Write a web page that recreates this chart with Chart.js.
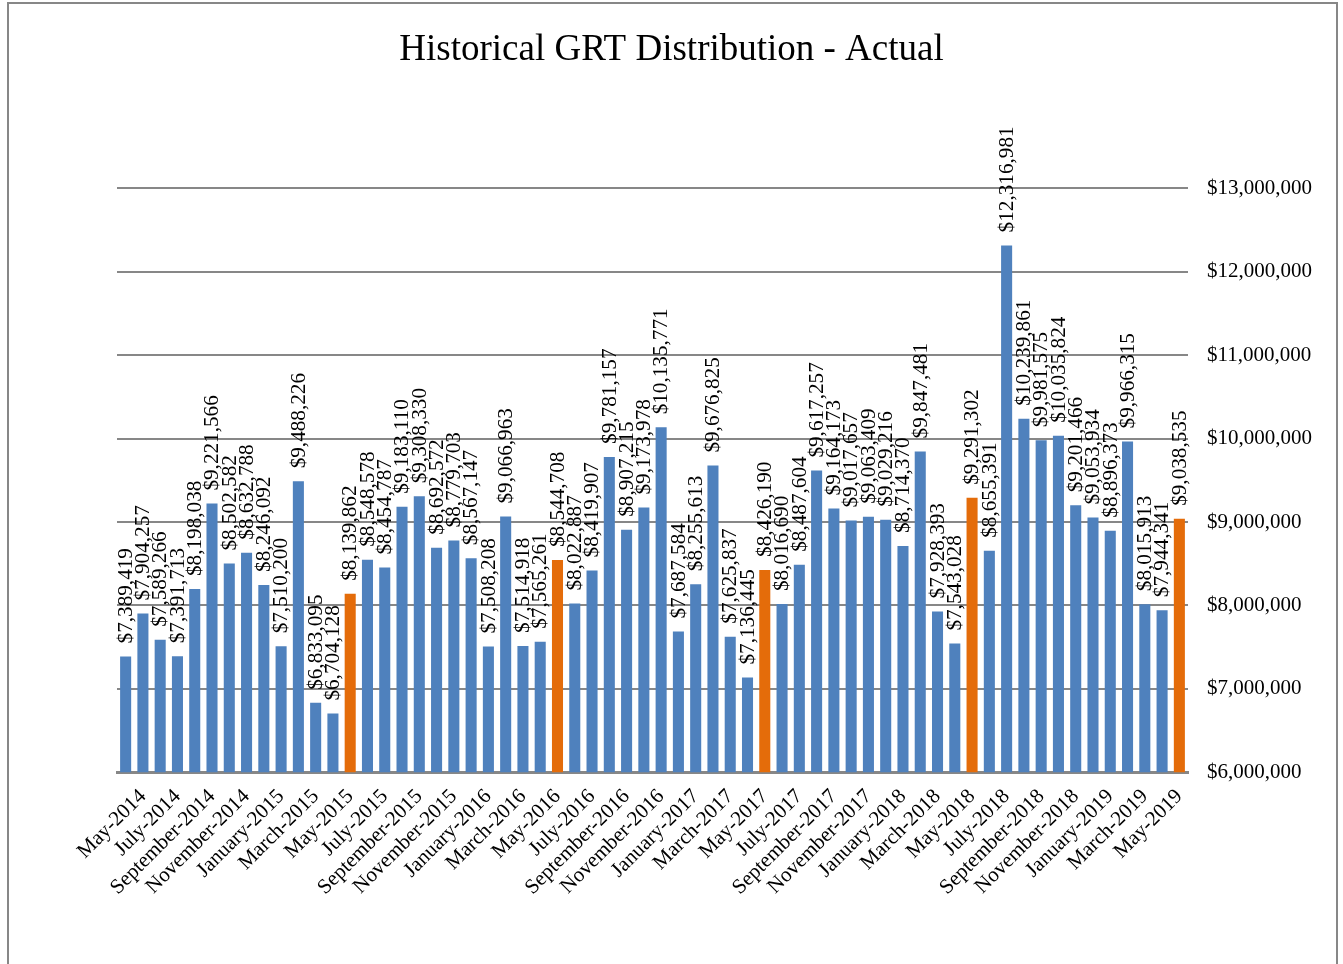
<!DOCTYPE html>
<html>
<head>
<meta charset="utf-8">
<title>Historical GRT Distribution - Actual</title>
<script src="https://cdn.jsdelivr.net/npm/chart.js@4.4.1/dist/chart.umd.min.js"></script>
<style>
  html, body { margin: 0; padding: 0; background: #ffffff; overflow: hidden; }
  #wrap { position: relative; width: 1343px; height: 964px; }
  #frame {
    position: absolute; left: 7px; top: 2px; width: 1331px; height: 1000px;
    border: 2px solid #878787; box-sizing: border-box;
  }
  #chart { position: absolute; left: 0; top: 0; }
</style>
</head>
<body>
<div id="wrap">
  <div id="frame"></div>
  <canvas id="chart" width="1343" height="964"></canvas>
</div>
<script>
// ---- Data ---------------------------------------------------------
const months = [
  "April-2014", "May-2014", "June-2014", "July-2014", "August-2014", "September-2014",
  "October-2014", "November-2014", "December-2014",
  "January-2015", "February-2015", "March-2015", "April-2015", "May-2015", "June-2015",
  "July-2015", "August-2015", "September-2015", "October-2015", "November-2015", "December-2015",
  "January-2016", "February-2016", "March-2016", "April-2016", "May-2016", "June-2016",
  "July-2016", "August-2016", "September-2016", "October-2016", "November-2016", "December-2016",
  "January-2017", "February-2017", "March-2017", "April-2017", "May-2017", "June-2017",
  "July-2017", "August-2017", "September-2017", "October-2017", "November-2017", "December-2017",
  "January-2018", "February-2018", "March-2018", "April-2018", "May-2018", "June-2018",
  "July-2018", "August-2018", "September-2018", "October-2018", "November-2018", "December-2018",
  "January-2019", "February-2019", "March-2019", "April-2019", "May-2019",
];

const distributions = [
  7389419, 7904257, 7589266, 7391713, 8198038, 9221566,
  8502582, 8632788, 8246092,
  7510200, 9488226, 6833095, 6704128, 8139862, 8548578,
  8454787, 9183110, 9308330, 8692572, 8779703, 8567147,
  7508208, 9066963, 7514918, 7565261, 8544708, 8022887,
  8419907, 9781157, 8907215, 9173978, 10135771, 7687584,
  8255613, 9676825, 7625837, 7136445, 8426190, 8016690,
  8487604, 9617257, 9164173, 9017657, 9063409, 9029216,
  8714370, 9847481, 7928393, 7543028, 9291302, 8655391,
  12316981, 10239861, 9981575, 10035824, 9201466, 9053934,
  8896373, 9966315, 8015913, 7944341, 9038535,
];

// fiscal year-end months shown in orange
const highlightMonths = ["May-2015", "May-2016", "May-2017", "May-2018", "May-2019"];

const yTicks = [6000000, 7000000, 8000000, 9000000, 10000000, 11000000, 12000000, 13000000];

// ---- Style --------------------------------------------------------
const BLUE   = "#4f81bd";
const ORANGE = "#e46c0a";
const GRID   = "#878787";
const SERIF  = "'Liberation Serif', 'Times New Roman', serif";

Chart.defaults.font.family = SERIF;
Chart.defaults.color = "#000000";

const money = (v) => "$" + Math.round(v).toLocaleString("en-US");

// vertical value labels above each bar
const barLabels = {
  id: "barLabels",
  afterDatasetsDraw(chart) {
    const ctx = chart.ctx;
    const meta = chart.getDatasetMeta(0);
    ctx.save();
    ctx.font = "20px " + SERIF;
    ctx.fillStyle = "#000000";
    ctx.textAlign = "left";
    ctx.textBaseline = "middle";
    meta.data.forEach((bar, i) => {
      ctx.save();
      ctx.translate(bar.x + 1, bar.y - 13);
      ctx.scale(1, 1.06); // source text is slightly tall
      ctx.rotate(-Math.PI / 2);
      ctx.fillText(money(distributions[i]), 0, 0);
      ctx.restore();
    });
    ctx.restore();
  },
};

new Chart(document.getElementById("chart"), {
  type: "bar",
  data: {
    labels: months,
    datasets: [{
      data: distributions,
      xAxisID: "x",
      yAxisID: "y",
      backgroundColor: months.map((m) => highlightMonths.includes(m) ? ORANGE : BLUE),
      borderWidth: 0,
      categoryPercentage: 1.0,
      barPercentage: 0.64,
    }],
  },
  options: {
    responsive: false,
    animation: false,
    events: [],
    layout: { padding: { left: 0, right: 0, top: 0, bottom: 60 } },
    plugins: {
      legend: { display: false },
      tooltip: { enabled: false },
      title: {
        display: true,
        text: "Historical GRT Distribution - Actual",
        color: "#000000",
        font: { family: SERIF, size: 37, weight: "normal" },
        padding: { top: 28, bottom: 116 },
      },
    },
    scales: {
      x: {
        grid: { display: false },
        border: { display: true, color: GRID, width: 3 },
        ticks: {
          autoSkip: false,
          maxRotation: 45,
          minRotation: 45,
          padding: 4,
          font: { size: 21 },
          callback: (v, i) => (i % 2 === 1 ? months[i] : ""),
        },
      },
      y: {
        position: "right",
        min: yTicks[0],
        max: yTicks[yTicks.length - 1],
        afterBuildTicks: (axis) => { axis.ticks = yTicks.map((v) => ({ value: v })); },
        afterFit: (s) => { s.width = 155; },
        grid: { color: GRID, lineWidth: 2, drawTicks: false },
        border: { display: false },
        ticks: {
          padding: 19,
          font: { size: 21 },
          callback: (v) => money(v),
        },
      },
      // empty left margin so the title stays centred on the page
      gap: {
        type: "linear",
        position: "left",
        display: true,
        grid: { display: false },
        border: { display: false },
        ticks: { display: false },
        afterFit: (s) => { s.width = 117; },
      },
    },
  },
  plugins: [barLabels],
});
</script>
</body>
</html>
